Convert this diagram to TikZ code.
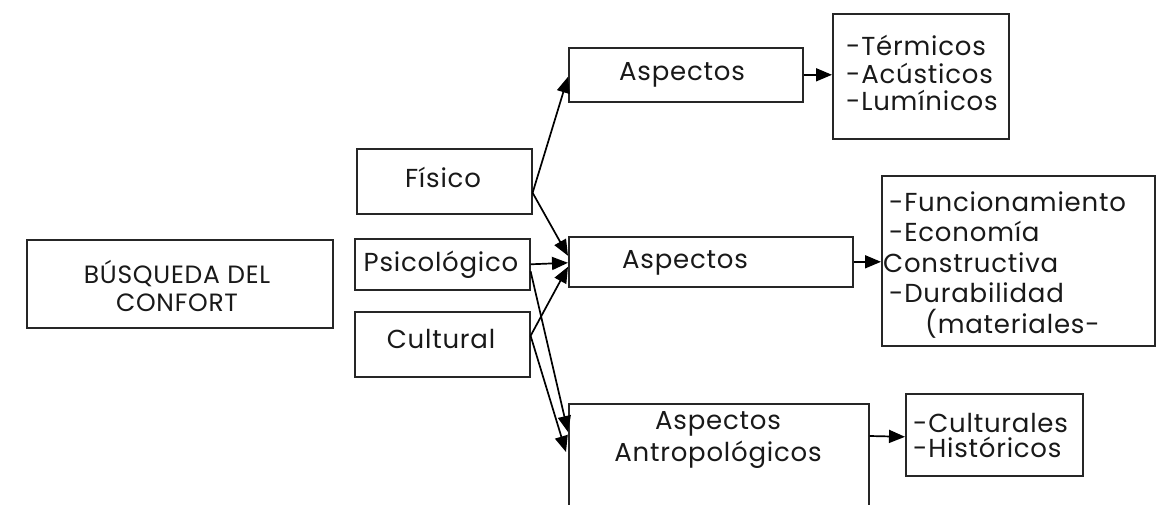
\documentclass[tikz,border=0pt]{standalone}
\usepackage{fontspec}
\setmainfont{Poppins}[LetterSpace=3]
\usetikzlibrary{arrows.meta,calc}
\begin{document}
\begin{tikzpicture}[x=1pt,y=-1pt,
  box/.style={draw=black!85,line width=1.6pt,rectangle,inner sep=0pt,anchor=north west},
  lbl/.style={font=\fontsize{26}{28}\selectfont,inner sep=0pt,text=black!90},
  conn/.style={line width=1.7pt,-{Triangle[length=16pt,width=13pt]}}]
\useasboundingbox (0,0) rectangle (1157,505);
\clip (0,0) rectangle (1157,505);
\fill[white] (0,0) rectangle (1157,505);

% boxes
\node[box,minimum width=306pt,minimum height=88pt] (busq) at (26,239) {};
\node[box,minimum width=175pt,minimum height=65pt] (fisico) at (356,148) {};
\node[box,minimum width=175pt,minimum height=51pt] (psico) at (354,238) {};
\node[box,minimum width=175pt,minimum height=65pt] (cult) at (354,311) {};
\node[box,minimum width=234pt,minimum height=54pt] (asp1) at (568,47) {};
\node[box,minimum width=284pt,minimum height=50pt] (asp2) at (568,236) {};
\node[box,minimum width=300pt,minimum height=130pt] (antr) at (568,403) {};
\node[box,minimum width=176pt,minimum height=125pt] (term) at (832,13) {};
\node[box,minimum width=273pt,minimum height=170pt] (func) at (881,175) {};
\node[box,minimum width=177pt,minimum height=82pt] (cultu) at (905,393) {};

% texts
\node[lbl,align=center,font=\fontsize{25}{28}\selectfont] (tbusq) at (177,286) {BÚSQUEDA DEL\\CONFORT};
\node[lbl] (tfis) at (443,177) {Físico};
\node[lbl] (tpsi) at (441,265) {Psicológico};
\node[lbl] (tcul) at (441,339) {Cultural};
\node[lbl] (tasp1) at (682,75) {Aspectos};
\node[lbl] (tasp2) at (685,263) {Aspectos};
\node[lbl,align=center,font=\fontsize{26}{32}\selectfont] (tantr) at (718,440) {Aspectos\\Antropológicos};
\node[lbl,align=left,anchor=west,font=\fontsize{26}{27.5}\selectfont] (tterm) at (846,73) {-Térmicos\\-Acústicos\\-Lumínicos};
\node[lbl,align=left,anchor=west,font=\fontsize{26}{30.5}\selectfont] (tfunc) at (889,265)
  {-Funcionamiento\\-Economía\\\hspace*{-6pt}Constructiva\\-Durabilidad\\\hspace*{36pt}(materiales-};
\node[lbl,align=left,anchor=west,font=\fontsize{26}{25}\selectfont] (tcultu) at (913,435) {-Culturales\\-Históricos};

% connectors
\draw[conn] ($(fisico.east)+(0,11.5)$) -- ($(asp1.west)+(0,2)$);
\draw[conn] ($(fisico.east)+(0,11.5)$) -- ($(asp2.west)+(0,-6)$);
\draw[conn] (psico.east) -- ($(asp2.west)+(0,1)$);
\draw[conn] ($(psico.east)+(0,7)$) -- ($(antr.north west)+(0,29)$);
\draw[conn] ($(cult.east)+(0,-8.5)$) -- ($(asp2.west)+(0,5)$);
\draw[conn] ($(cult.east)+(0,-8.5)$) -- ($(antr.north west)+(-2,49)$);
\draw[conn] (asp1.east) -- (asp1.east -| term.west);
\draw[conn] (asp2.east) -- (asp2.east -| func.west);
\draw[conn] ($(antr.north east)+(0,33)$) -- ($(cultu.west)+(0,2)$);
\end{tikzpicture}
\end{document}
